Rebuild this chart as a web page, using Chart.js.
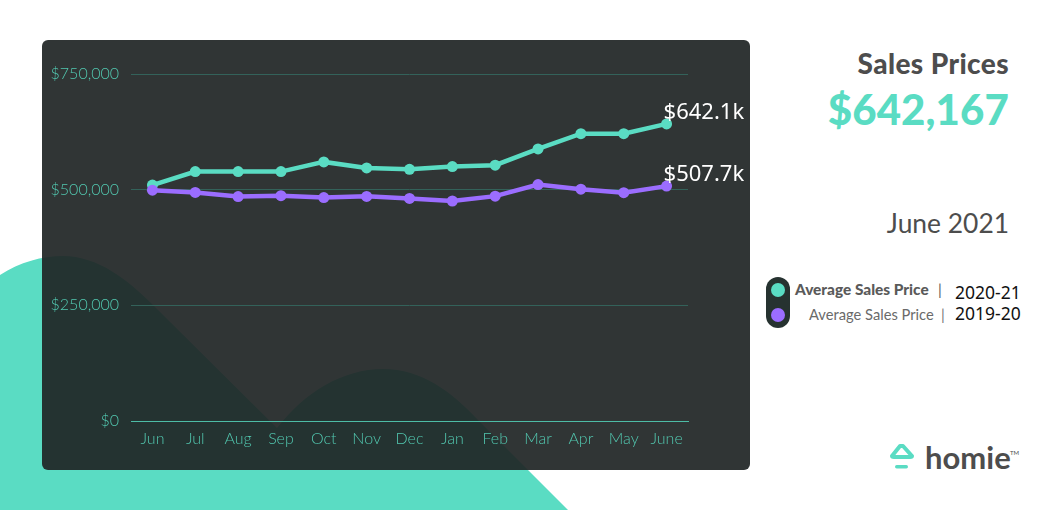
<!DOCTYPE html>
<html lang="en">
<head>
<meta charset="utf-8">
<title>Sales Prices</title>
<script src="https://cdn.jsdelivr.net/npm/chart.js@4"></script>
<style>
html, body { margin: 0; padding: 0; background: #fff; }
body { position: relative; width: 1060px; height: 510px; overflow: hidden; font-family: Lato, "Open Sans", sans-serif; }
#blob { position: absolute; left: 0; top: 0; }
#card { position: absolute; left: 42px; top: 40px; width: 708px; height: 430px; background: rgba(32,38,38,.93); border-radius: 6px; }
#card canvas { position: absolute; left: 0; top: 0; }
.txt { position: absolute; white-space: nowrap; }
#title { right: 51px; top: 45px; font-size: 28px; font-weight: 900; letter-spacing: .4px; color: #4d4d4d; line-height: 36px; }
#price { right: 51px; top: 82px; font-size: 42px; font-weight: 900; letter-spacing: .1px; color: #5adcc3; line-height: 54px; }
#month { right: 51px; top: 206px; font-size: 26.4px; font-weight: 400; color: #4d4d4d; line-height: 34px; }
#pill { position: absolute; left: 766px; top: 277px; width: 24px; height: 51px; background: #263230; border-radius: 12px; }
.dot { position: absolute; left: 5px; width: 14px; height: 14px; border-radius: 50%; }
.leg { line-height: 18px; }
.bar { font-size: 15px; line-height: 18px; color: #5a5a5a; }
.yr { left: 955px; font-family: "Noto Sans", sans-serif; font-size: 17.5px; color: #111; line-height: 20px; }
#brand { left: 925px; top: 437px; font-size: 31px; font-weight: 700; color: #4d4d4d; line-height: 40px; }
#tm { left: 1010px; top: 449px; font-size: 6px; color: #4d4d4d; line-height: 8px; }
</style>
</head>
<body>

<svg id="blob" width="1060" height="510">
    <path fill="#5adcc3" d="M0,510 L0,275 C20,262 42,256 63,256 C98,256 128,280 153,305 L277,428 C305,392 343,369 383,369 C422,369 452,392 478,420 L568,510 Z"/>
</svg>

<div id="card"><canvas id="salesChart" width="708" height="430"></canvas></div>

<div class="txt" id="title">Sales Prices</div>
<div class="txt" id="price">$642,167</div>
<div class="txt" id="month">June 2021</div>

<div id="pill">
    <div class="dot" style="top:6px;background:#5adcc3"></div>
    <div class="dot" style="top:31px;background:#9b6dff"></div>
</div>
<div class="txt leg" style="left:795px;top:280px;font-size:15.4px;font-weight:900;color:#5a5a5a">Average Sales Price</div>
<div class="txt bar" style="left:938px;top:280px">|</div>
<div class="txt leg" style="left:809px;top:305px;font-size:14.7px;color:#6a6a6a">Average Sales Price</div>
<div class="txt bar" style="left:941px;top:305px;color:#777">|</div>
<div class="txt yr" style="top:282px">2020-21</div>
<div class="txt yr" style="top:303px">2019-20</div>

<svg style="position:absolute;left:888px;top:442px" width="28" height="28">
    <path fill="none" stroke="#5adcc3" stroke-width="4" stroke-linejoin="round" d="M4,14 L12,4 L15,4 L24,14 Q24,15 22,15 L6,15 Q4,15 4,14 Z"/>
    <rect x="7" y="23" width="13" height="3.5" rx="1.7" fill="#5adcc3"/>
</svg>
<div class="txt" id="brand">homie</div>
<div class="txt" id="tm">TM</div>

<script>

/* ==========================================================
   DATA
========================================================== */

const months = ["Jun","Jul","Aug","Sep","Oct","Nov","Dec","Jan","Feb","Mar","Apr","May","June"];

const prices2021 = [510000,539000,539000,539000,560000,547000,544000,550000,553000,588000,621000,621000,642167];

const prices1920 = [499000,494000,485000,487000,483000,485500,481000,475500,486000,511000,501000,493500,507700];

const endLabels = ["$642.1k","$507.7k"];

const yTicks = [0,250000,500000,750000];


/* ==========================================================
   COLOURS
========================================================== */

const teal = "#5adcc3";
const purple = "#9b6dff";
const tickColour = "#52c8b0";


/* ==========================================================
   END OF LINE LABELS
========================================================== */

const endLabelPlugin = {

    id:"endLabels",

    afterDatasetsDraw(chart){

        const ctx = chart.ctx;

        ctx.save();
        ctx.fillStyle = "#fff";
        ctx.font = "22px 'Noto Sans', sans-serif";
        ctx.textAlign = "left";
        ctx.textBaseline = "alphabetic";

        endLabels.forEach((text,i)=>{

            const points = chart.getDatasetMeta(i).data;
            const last = points[points.length-1];

            ctx.fillText(text,last.x-3,last.y-5);

        });

        ctx.restore();

    }

};


/* ==========================================================
   CHART
========================================================== */

new Chart(document.getElementById("salesChart").getContext("2d"),{

    type:"line",

    data:{
        labels:months,
        datasets:[
            {
                label:"Average Sales Price 2020-21",
                data:prices2021,
                borderColor:teal,
                backgroundColor:teal,
                borderWidth:4.5,
                pointRadius:5.5,
                pointBorderWidth:0,
                tension:0,
                order:2
            },
            {
                label:"Average Sales Price 2019-20",
                data:prices1920,
                borderColor:purple,
                backgroundColor:purple,
                borderWidth:4.5,
                pointRadius:5.5,
                pointBorderWidth:0,
                tension:0,
                order:1
            }
        ]
    },

    options:{
        responsive:false,
        animation:false,
        devicePixelRatio:1,
        layout:{padding:{top:34,right:62,bottom:0,left:0}},
        plugins:{
            legend:{display:false},
            tooltip:{enabled:false}
        },
        scales:{
            x:{
                offset:true,
                grid:{display:false,drawTicks:false},
                border:{color:"#4dbca6",width:1},
                ticks:{
                    color:tickColour,
                    font:{family:"Lato",size:16,weight:300},
                    padding:8,
                    maxRotation:0,
                    autoSkip:false
                },
                afterFit(scale){ scale.height = 49; }
            },
            y:{
                min:0,
                max:750000,
                afterBuildTicks(scale){
                    scale.ticks = yTicks.map(v=>({value:v}));
                },
                grid:{
                    color:c=>c.tick.value===0 ? "#4dbca6" : "#33625a",
                    lineWidth:1,
                    drawTicks:false
                },
                border:{display:false},
                ticks:{
                    color:tickColour,
                    font:{family:"Lato",size:16,weight:300},
                    padding:12,
                    callback:v=>"$"+Number(v).toLocaleString("en-US")
                },
                afterFit(scale){ scale.width = 89; }
            }
        }
    },

    plugins:[endLabelPlugin]

});

</script>
</body>
</html>
